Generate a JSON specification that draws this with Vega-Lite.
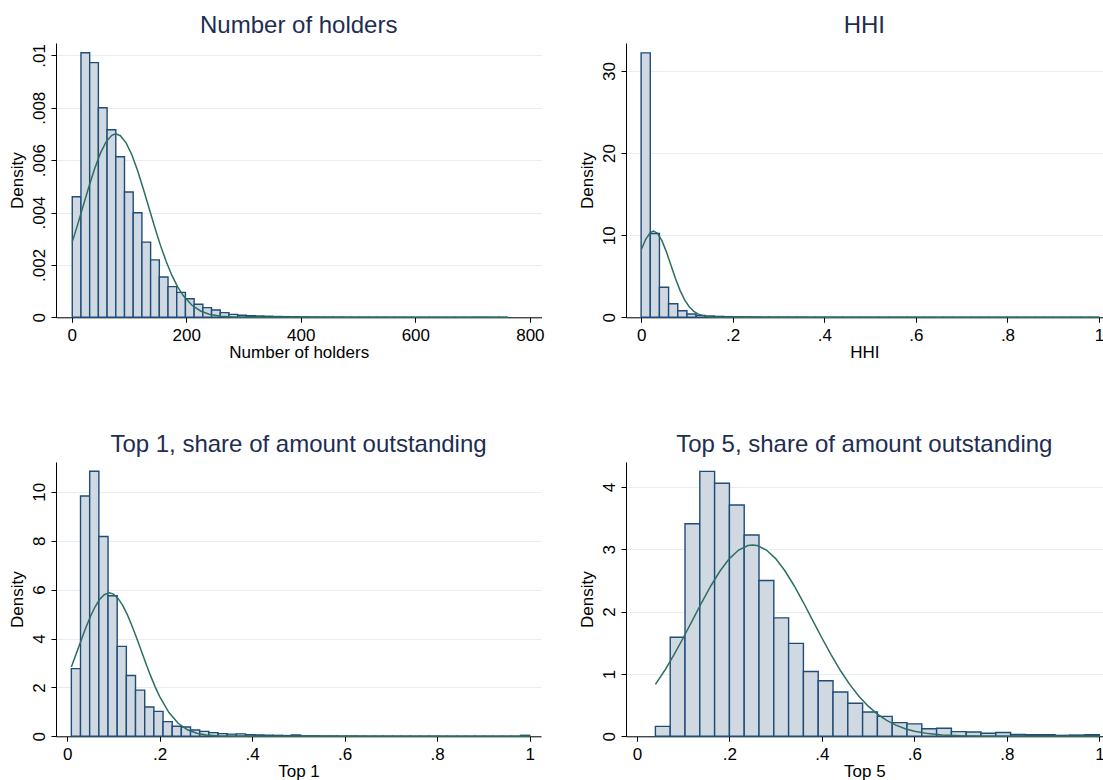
{
  "$schema": "https://vega.github.io/schema/vega-lite/v6.json",
  "background": "white",
  "padding": {"left": 8, "top": 14, "right": 0, "bottom": 0},
  "columns": 2,
  "spacing": {"row": 72, "column": 33},
  "config": {
    "view": {"stroke": null},
    "font": "Liberation Sans",
    "axis": {
      "domainColor": "#000000",
      "tickColor": "#000000",
      "labelColor": "#000000",
      "titleColor": "#000000",
      "labelFont": "Liberation Sans",
      "titleFont": "Liberation Sans",
      "labelFontSize": 17,
      "titleFontSize": 17,
      "titleFontWeight": "normal",
      "tickSize": 5,
      "domainWidth": 1,
      "tickWidth": 1,
      "gridColor": "#e6eef0",
      "gridWidth": 1
    },
    "axisX": {"grid": false, "labelPadding": 5, "titlePadding": 1, "labelFlush": false, "labelOverlap": false},
    "axisY": {"grid": true, "labelAngle": -90, "labelPadding": 3, "titlePadding": 4, "labelFlush": false, "labelOverlap": false},
    "title": {"fontSize": 24, "font": "Liberation Sans", "fontWeight": "normal", "color": "#1e2d52", "anchor": "middle", "offset": 5}
  },
  "datasets": {
    "p1bars": [
      {"lo": 1, "hi": 16.2, "density": 0.00460},
      {"lo": 16.2, "hi": 31.4, "density": 0.01010},
      {"lo": 31.4, "hi": 46.6, "density": 0.00972},
      {"lo": 46.6, "hi": 61.8, "density": 0.00800},
      {"lo": 61.8, "hi": 77, "density": 0.00716},
      {"lo": 77, "hi": 92.2, "density": 0.00613},
      {"lo": 92.2, "hi": 107.4, "density": 0.00478},
      {"lo": 107.4, "hi": 122.6, "density": 0.00399},
      {"lo": 122.6, "hi": 137.8, "density": 0.00287},
      {"lo": 137.8, "hi": 153, "density": 0.00219},
      {"lo": 153, "hi": 168.2, "density": 0.00154},
      {"lo": 168.2, "hi": 183.4, "density": 0.00117},
      {"lo": 183.4, "hi": 198.6, "density": 0.00095},
      {"lo": 198.6, "hi": 213.8, "density": 0.00071},
      {"lo": 213.8, "hi": 229, "density": 0.00050},
      {"lo": 229, "hi": 244.2, "density": 0.00037},
      {"lo": 244.2, "hi": 259.4, "density": 0.00028},
      {"lo": 259.4, "hi": 274.6, "density": 0.00018},
      {"lo": 274.6, "hi": 289.8, "density": 0.00011},
      {"lo": 289.8, "hi": 305, "density": 0.00008},
      {"lo": 305, "hi": 320.2, "density": 0.00006},
      {"lo": 320.2, "hi": 335.4, "density": 0.00005},
      {"lo": 335.4, "hi": 350.6, "density": 0.00004},
      {"lo": 350.6, "hi": 365.8, "density": 0.00003},
      {"lo": 365.8, "hi": 381, "density": 0.000025},
      {"lo": 381, "hi": 396.2, "density": 0.00002},
      {"lo": 396.2, "hi": 411.4, "density": 0.000015},
      {"lo": 411.4, "hi": 426.6, "density": 0.000012},
      {"lo": 426.6, "hi": 441.8, "density": 0.00001},
      {"lo": 441.8, "hi": 457, "density": 0.000008},
      {"lo": 457, "hi": 472.2, "density": 0.000006},
      {"lo": 472.2, "hi": 487.4, "density": 0.000005},
      {"lo": 487.4, "hi": 502.6, "density": 0.000004},
      {"lo": 502.6, "hi": 517.8, "density": 0.000004},
      {"lo": 517.8, "hi": 533, "density": 0.000003},
      {"lo": 533, "hi": 548.2, "density": 0.000003},
      {"lo": 548.2, "hi": 563.4, "density": 0.000002},
      {"lo": 563.4, "hi": 578.6, "density": 0.000002},
      {"lo": 578.6, "hi": 593.8, "density": 0.000002},
      {"lo": 593.8, "hi": 609, "density": 0.000001},
      {"lo": 609, "hi": 624.2, "density": 0.000001},
      {"lo": 624.2, "hi": 639.4, "density": 0.000001},
      {"lo": 639.4, "hi": 654.6, "density": 0.000001},
      {"lo": 654.6, "hi": 669.8, "density": 0.000001},
      {"lo": 669.8, "hi": 685, "density": 0.000001},
      {"lo": 685, "hi": 700.2, "density": 0.000001},
      {"lo": 700.2, "hi": 715.4, "density": 0},
      {"lo": 715.4, "hi": 730.6, "density": 0},
      {"lo": 730.6, "hi": 745.8, "density": 0.000001},
      {"lo": 745.8, "hi": 761, "density": 0.000001}
    ],
    "p1curve": [
      {"x": 1, "density": 0.002878},
      {"x": 10, "density": 0.003508},
      {"x": 20, "density": 0.004246},
      {"x": 30, "density": 0.004983},
      {"x": 40, "density": 0.005670},
      {"x": 50, "density": 0.006257},
      {"x": 60, "density": 0.006696},
      {"x": 70, "density": 0.006947},
      {"x": 77, "density": 0.007000},
      {"x": 85, "density": 0.006931},
      {"x": 95, "density": 0.006660},
      {"x": 105, "density": 0.006204},
      {"x": 115, "density": 0.005605},
      {"x": 125, "density": 0.004910},
      {"x": 135, "density": 0.004171},
      {"x": 145, "density": 0.003436},
      {"x": 155, "density": 0.002745},
      {"x": 165, "density": 0.002126},
      {"x": 175, "density": 0.001597},
      {"x": 185, "density": 0.001163},
      {"x": 195, "density": 0.000821},
      {"x": 210, "density": 0.000460},
      {"x": 225, "density": 0.000241},
      {"x": 240, "density": 0.000117},
      {"x": 260, "density": 0.0000405},
      {"x": 280, "density": 0.0000123},
      {"x": 310, "density": 0.000001},
      {"x": 350, "density": 0},
      {"x": 761, "density": 0}
    ],
    "p2bars": [
      {"lo": 0.00, "hi": 0.02, "density": 32.2},
      {"lo": 0.02, "hi": 0.04, "density": 10.2},
      {"lo": 0.04, "hi": 0.06, "density": 3.65},
      {"lo": 0.06, "hi": 0.08, "density": 1.65},
      {"lo": 0.08, "hi": 0.10, "density": 0.80},
      {"lo": 0.10, "hi": 0.12, "density": 0.40},
      {"lo": 0.12, "hi": 0.14, "density": 0.24},
      {"lo": 0.14, "hi": 0.16, "density": 0.16},
      {"lo": 0.16, "hi": 0.18, "density": 0.11},
      {"lo": 0.18, "hi": 0.20, "density": 0.08},
      {"lo": 0.20, "hi": 0.22, "density": 0.06},
      {"lo": 0.22, "hi": 0.24, "density": 0.05},
      {"lo": 0.24, "hi": 0.26, "density": 0.04},
      {"lo": 0.26, "hi": 0.28, "density": 0.03},
      {"lo": 0.28, "hi": 0.30, "density": 0.025},
      {"lo": 0.30, "hi": 0.32, "density": 0.02},
      {"lo": 0.32, "hi": 0.34, "density": 0.018},
      {"lo": 0.34, "hi": 0.36, "density": 0.02},
      {"lo": 0.36, "hi": 0.38, "density": 0.012},
      {"lo": 0.38, "hi": 0.40, "density": 0.01},
      {"lo": 0.40, "hi": 0.42, "density": 0.008},
      {"lo": 0.42, "hi": 0.44, "density": 0.008},
      {"lo": 0.44, "hi": 0.46, "density": 0.007},
      {"lo": 0.46, "hi": 0.48, "density": 0.006},
      {"lo": 0.48, "hi": 0.50, "density": 0.006},
      {"lo": 0.50, "hi": 0.52, "density": 0.005},
      {"lo": 0.52, "hi": 0.54, "density": 0.005},
      {"lo": 0.54, "hi": 0.56, "density": 0.004},
      {"lo": 0.56, "hi": 0.58, "density": 0.004},
      {"lo": 0.58, "hi": 0.60, "density": 0.004},
      {"lo": 0.60, "hi": 0.62, "density": 0.003},
      {"lo": 0.62, "hi": 0.64, "density": 0.003},
      {"lo": 0.64, "hi": 0.66, "density": 0.003},
      {"lo": 0.66, "hi": 0.68, "density": 0.003},
      {"lo": 0.68, "hi": 0.70, "density": 0.002},
      {"lo": 0.70, "hi": 0.72, "density": 0.002},
      {"lo": 0.72, "hi": 0.74, "density": 0.002},
      {"lo": 0.74, "hi": 0.76, "density": 0.002},
      {"lo": 0.76, "hi": 0.78, "density": 0.002},
      {"lo": 0.78, "hi": 0.80, "density": 0.002},
      {"lo": 0.80, "hi": 0.82, "density": 0.002},
      {"lo": 0.82, "hi": 0.84, "density": 0.001},
      {"lo": 0.84, "hi": 0.86, "density": 0.001},
      {"lo": 0.86, "hi": 0.88, "density": 0.001},
      {"lo": 0.88, "hi": 0.90, "density": 0.001},
      {"lo": 0.90, "hi": 0.92, "density": 0.001},
      {"lo": 0.92, "hi": 0.94, "density": 0.001},
      {"lo": 0.94, "hi": 0.96, "density": 0.001},
      {"lo": 0.96, "hi": 0.98, "density": 0.001},
      {"lo": 0.98, "hi": 1.00, "density": 0.002}
    ],
    "p2curve": [
      {"x": 0.001, "density": 8.31},
      {"x": 0.01, "density": 9.50},
      {"x": 0.02, "density": 10.32},
      {"x": 0.027, "density": 10.50},
      {"x": 0.035, "density": 10.27},
      {"x": 0.045, "density": 9.39},
      {"x": 0.055, "density": 8.00},
      {"x": 0.065, "density": 6.37},
      {"x": 0.075, "density": 4.73},
      {"x": 0.085, "density": 3.28},
      {"x": 0.095, "density": 2.12},
      {"x": 0.105, "density": 1.28},
      {"x": 0.115, "density": 0.72},
      {"x": 0.125, "density": 0.38},
      {"x": 0.14, "density": 0.126},
      {"x": 0.155, "density": 0.036},
      {"x": 0.17, "density": 0.009},
      {"x": 0.2, "density": 0.0005},
      {"x": 1.0, "density": 0}
    ],
    "p3bars": [
      {"lo": 0.009, "hi": 0.0288, "density": 2.77},
      {"lo": 0.0288, "hi": 0.0486, "density": 9.83},
      {"lo": 0.0486, "hi": 0.0685, "density": 10.84},
      {"lo": 0.0685, "hi": 0.0883, "density": 8.17},
      {"lo": 0.0883, "hi": 0.1081, "density": 5.75},
      {"lo": 0.1081, "hi": 0.1279, "density": 3.68},
      {"lo": 0.1279, "hi": 0.1477, "density": 2.49},
      {"lo": 0.1477, "hi": 0.1676, "density": 1.89},
      {"lo": 0.1676, "hi": 0.1874, "density": 1.20},
      {"lo": 0.1874, "hi": 0.2072, "density": 1.02},
      {"lo": 0.2072, "hi": 0.227, "density": 0.60},
      {"lo": 0.227, "hi": 0.2468, "density": 0.41},
      {"lo": 0.2468, "hi": 0.2667, "density": 0.38},
      {"lo": 0.2667, "hi": 0.2865, "density": 0.26},
      {"lo": 0.2865, "hi": 0.3063, "density": 0.20},
      {"lo": 0.3063, "hi": 0.3261, "density": 0.15},
      {"lo": 0.3261, "hi": 0.3459, "density": 0.11},
      {"lo": 0.3459, "hi": 0.3658, "density": 0.09},
      {"lo": 0.3658, "hi": 0.3856, "density": 0.10},
      {"lo": 0.3856, "hi": 0.4054, "density": 0.07},
      {"lo": 0.4054, "hi": 0.4252, "density": 0.06},
      {"lo": 0.4252, "hi": 0.445, "density": 0.045},
      {"lo": 0.445, "hi": 0.4649, "density": 0.04},
      {"lo": 0.4649, "hi": 0.4847, "density": 0.03},
      {"lo": 0.4847, "hi": 0.5045, "density": 0.06},
      {"lo": 0.5045, "hi": 0.5243, "density": 0.02},
      {"lo": 0.5243, "hi": 0.5441, "density": 0.02},
      {"lo": 0.5441, "hi": 0.564, "density": 0.015},
      {"lo": 0.564, "hi": 0.5838, "density": 0.015},
      {"lo": 0.5838, "hi": 0.6036, "density": 0.01},
      {"lo": 0.6036, "hi": 0.6234, "density": 0.012},
      {"lo": 0.6234, "hi": 0.6432, "density": 0.01},
      {"lo": 0.6432, "hi": 0.6631, "density": 0.008},
      {"lo": 0.6631, "hi": 0.6829, "density": 0.008},
      {"lo": 0.6829, "hi": 0.7027, "density": 0.007},
      {"lo": 0.7027, "hi": 0.7225, "density": 0.006},
      {"lo": 0.7225, "hi": 0.7423, "density": 0.006},
      {"lo": 0.7423, "hi": 0.7622, "density": 0.005},
      {"lo": 0.7622, "hi": 0.782, "density": 0.005},
      {"lo": 0.782, "hi": 0.8018, "density": 0.006},
      {"lo": 0.8018, "hi": 0.8216, "density": 0.005},
      {"lo": 0.8216, "hi": 0.8414, "density": 0.004},
      {"lo": 0.8414, "hi": 0.8613, "density": 0.005},
      {"lo": 0.8613, "hi": 0.8811, "density": 0.004},
      {"lo": 0.8811, "hi": 0.9009, "density": 0.004},
      {"lo": 0.9009, "hi": 0.9207, "density": 0.004},
      {"lo": 0.9207, "hi": 0.9405, "density": 0.003},
      {"lo": 0.9405, "hi": 0.9604, "density": 0.004},
      {"lo": 0.9604, "hi": 0.9802, "density": 0.005},
      {"lo": 0.9802, "hi": 1.0, "density": 0.04}
    ],
    "p3curve": [
      {"x": 0.009, "density": 2.836},
      {"x": 0.02, "density": 3.402},
      {"x": 0.03, "density": 3.923},
      {"x": 0.04, "density": 4.428},
      {"x": 0.05, "density": 4.892},
      {"x": 0.06, "density": 5.288},
      {"x": 0.07, "density": 5.594},
      {"x": 0.08, "density": 5.791},
      {"x": 0.091, "density": 5.867},
      {"x": 0.10, "density": 5.816},
      {"x": 0.11, "density": 5.642},
      {"x": 0.12, "density": 5.357},
      {"x": 0.13, "density": 4.977},
      {"x": 0.14, "density": 4.525},
      {"x": 0.15, "density": 4.027},
      {"x": 0.16, "density": 3.506},
      {"x": 0.17, "density": 2.988},
      {"x": 0.18, "density": 2.491},
      {"x": 0.19, "density": 2.033},
      {"x": 0.20, "density": 1.623},
      {"x": 0.22, "density": 0.970},
      {"x": 0.24, "density": 0.532},
      {"x": 0.26, "density": 0.268},
      {"x": 0.28, "density": 0.123},
      {"x": 0.30, "density": 0.052},
      {"x": 0.33, "density": 0.012},
      {"x": 0.37, "density": 0.001},
      {"x": 0.45, "density": 0},
      {"x": 1.0, "density": 0}
    ],
    "p4bars": [
      {"lo": 0.040, "hi": 0.072, "density": 0.16},
      {"lo": 0.072, "hi": 0.104, "density": 1.59},
      {"lo": 0.104, "hi": 0.136, "density": 3.41},
      {"lo": 0.136, "hi": 0.168, "density": 4.25},
      {"lo": 0.168, "hi": 0.200, "density": 4.06},
      {"lo": 0.200, "hi": 0.232, "density": 3.71},
      {"lo": 0.232, "hi": 0.264, "density": 3.23},
      {"lo": 0.264, "hi": 0.296, "density": 2.50},
      {"lo": 0.296, "hi": 0.328, "density": 1.90},
      {"lo": 0.328, "hi": 0.360, "density": 1.49},
      {"lo": 0.360, "hi": 0.392, "density": 1.04},
      {"lo": 0.392, "hi": 0.424, "density": 0.89},
      {"lo": 0.424, "hi": 0.456, "density": 0.71},
      {"lo": 0.456, "hi": 0.488, "density": 0.53},
      {"lo": 0.488, "hi": 0.520, "density": 0.39},
      {"lo": 0.520, "hi": 0.552, "density": 0.32},
      {"lo": 0.552, "hi": 0.584, "density": 0.22},
      {"lo": 0.584, "hi": 0.616, "density": 0.20},
      {"lo": 0.616, "hi": 0.648, "density": 0.12},
      {"lo": 0.648, "hi": 0.680, "density": 0.13},
      {"lo": 0.680, "hi": 0.712, "density": 0.075},
      {"lo": 0.712, "hi": 0.744, "density": 0.07},
      {"lo": 0.744, "hi": 0.776, "density": 0.05},
      {"lo": 0.776, "hi": 0.808, "density": 0.06},
      {"lo": 0.808, "hi": 0.840, "density": 0.03},
      {"lo": 0.840, "hi": 0.872, "density": 0.025},
      {"lo": 0.872, "hi": 0.904, "density": 0.025},
      {"lo": 0.904, "hi": 0.936, "density": 0.015},
      {"lo": 0.936, "hi": 0.968, "density": 0.02},
      {"lo": 0.968, "hi": 1.000, "density": 0.025}
    ],
    "p4curve": [
      {"x": 0.04, "density": 0.833},
      {"x": 0.06, "density": 1.055},
      {"x": 0.08, "density": 1.305},
      {"x": 0.10, "density": 1.577},
      {"x": 0.12, "density": 1.861},
      {"x": 0.14, "density": 2.146},
      {"x": 0.16, "density": 2.415},
      {"x": 0.18, "density": 2.655},
      {"x": 0.20, "density": 2.850},
      {"x": 0.22, "density": 2.988},
      {"x": 0.24, "density": 3.060},
      {"x": 0.25, "density": 3.069},
      {"x": 0.26, "density": 3.060},
      {"x": 0.28, "density": 2.988},
      {"x": 0.30, "density": 2.850},
      {"x": 0.32, "density": 2.655},
      {"x": 0.34, "density": 2.415},
      {"x": 0.36, "density": 2.146},
      {"x": 0.38, "density": 1.861},
      {"x": 0.40, "density": 1.577},
      {"x": 0.42, "density": 1.305},
      {"x": 0.44, "density": 1.055},
      {"x": 0.46, "density": 0.833},
      {"x": 0.48, "density": 0.642},
      {"x": 0.50, "density": 0.483},
      {"x": 0.52, "density": 0.355},
      {"x": 0.54, "density": 0.255},
      {"x": 0.56, "density": 0.179},
      {"x": 0.58, "density": 0.122},
      {"x": 0.60, "density": 0.082},
      {"x": 0.63, "density": 0.043},
      {"x": 0.66, "density": 0.021},
      {"x": 0.70, "density": 0.0077},
      {"x": 0.75, "density": 0.001},
      {"x": 0.80, "density": 0.0002},
      {"x": 1.0, "density": 0}
    ]
  },
  "concat": [
    {
      "width": 485.5,
      "height": 274.3,
      "title": "Number of holders",
      "layer": [
        {
          "data": {"name": "p1bars"},
          "mark": {"type": "rect", "fill": "#d0d9e2", "stroke": "#1f4c78", "strokeWidth": 1.4},
          "encoding": {
            "x": {"field": "lo", "type": "quantitative", "scale": {"domain": [-27.4, 820.3], "nice": false, "zero": false}, "axis": {"values": [0, 200, 400, 600, 800], "title": "Number of holders"}},
            "x2": {"field": "hi"},
            "y": {"field": "density", "type": "quantitative", "scale": {"domain": [0, 0.01047], "nice": false}, "axis": {"values": [0, 0.002, 0.004, 0.006, 0.008, 0.01], "title": "Density", "labelExpr": "datum.value == 0 ? '0' : replace(format(datum.value, '.3~f'), '0.', '.')"}},
            "y2": {"datum": 0}
          }
        },
        {
          "data": {"name": "p1curve"},
          "mark": {"type": "line", "color": "#2c6f62", "strokeWidth": 1.5},
          "encoding": {
            "x": {"field": "x", "type": "quantitative"},
            "y": {"field": "density", "type": "quantitative"}
          }
        }
      ]
    },
    {
      "width": 476.6,
      "height": 274.3,
      "title": "HHI",
      "layer": [
        {
          "data": {"name": "p2bars"},
          "mark": {"type": "rect", "fill": "#d0d9e2", "stroke": "#1f4c78", "strokeWidth": 1.4},
          "encoding": {
            "x": {"field": "lo", "type": "quantitative", "scale": {"domain": [-0.033, 1.0077], "nice": false, "zero": false}, "axis": {"values": [0, 0.2, 0.4, 0.6, 0.8, 1], "title": "HHI", "labelExpr": "datum.value == 0 ? '0' : datum.value == 1 ? '1' : replace(format(datum.value, '.1f'), '0.', '.')"}},
            "x2": {"field": "hi"},
            "y": {"field": "density", "type": "quantitative", "scale": {"domain": [0, 33.4], "nice": false}, "axis": {"values": [0, 10, 20, 30], "title": "Density", "format": "d"}},
            "y2": {"datum": 0}
          }
        },
        {
          "data": {"name": "p2curve"},
          "mark": {"type": "line", "color": "#2c6f62", "strokeWidth": 1.5},
          "encoding": {
            "x": {"field": "x", "type": "quantitative"},
            "y": {"field": "density", "type": "quantitative"}
          }
        }
      ]
    },
    {
      "width": 485,
      "height": 274.3,
      "title": "Top 1, share of amount outstanding",
      "layer": [
        {
          "data": {"name": "p3bars"},
          "mark": {"type": "rect", "fill": "#d0d9e2", "stroke": "#1f4c78", "strokeWidth": 1.4},
          "encoding": {
            "x": {"field": "lo", "type": "quantitative", "scale": {"domain": [-0.0242, 1.0244], "nice": false, "zero": false}, "axis": {"values": [0, 0.2, 0.4, 0.6, 0.8, 1], "title": "Top 1", "labelExpr": "datum.value == 0 ? '0' : datum.value == 1 ? '1' : replace(format(datum.value, '.1f'), '0.', '.')"}},
            "x2": {"field": "hi"},
            "y": {"field": "density", "type": "quantitative", "scale": {"domain": [0, 11.22], "nice": false}, "axis": {"values": [0, 2, 4, 6, 8, 10], "title": "Density", "format": "d"}},
            "y2": {"datum": 0}
          }
        },
        {
          "data": {"name": "p3curve"},
          "mark": {"type": "line", "color": "#2c6f62", "strokeWidth": 1.5},
          "encoding": {
            "x": {"field": "x", "type": "quantitative"},
            "y": {"field": "density", "type": "quantitative"}
          }
        }
      ]
    },
    {
      "width": 476.6,
      "height": 274.3,
      "title": "Top 5, share of amount outstanding",
      "layer": [
        {
          "data": {"name": "p4bars"},
          "mark": {"type": "rect", "fill": "#d0d9e2", "stroke": "#1f4c78", "strokeWidth": 1.4},
          "encoding": {
            "x": {"field": "lo", "type": "quantitative", "scale": {"domain": [-0.0236, 1.0069], "nice": false, "zero": false}, "axis": {"values": [0, 0.2, 0.4, 0.6, 0.8, 1], "title": "Top 5", "labelExpr": "datum.value == 0 ? '0' : datum.value == 1 ? '1' : replace(format(datum.value, '.1f'), '0.', '.')"}},
            "x2": {"field": "hi"},
            "y": {"field": "density", "type": "quantitative", "scale": {"domain": [0, 4.40], "nice": false}, "axis": {"values": [0, 1, 2, 3, 4], "title": "Density", "format": "d"}},
            "y2": {"datum": 0}
          }
        },
        {
          "data": {"name": "p4curve"},
          "mark": {"type": "line", "color": "#2c6f62", "strokeWidth": 1.5},
          "encoding": {
            "x": {"field": "x", "type": "quantitative"},
            "y": {"field": "density", "type": "quantitative"}
          }
        }
      ]
    }
  ]
}
